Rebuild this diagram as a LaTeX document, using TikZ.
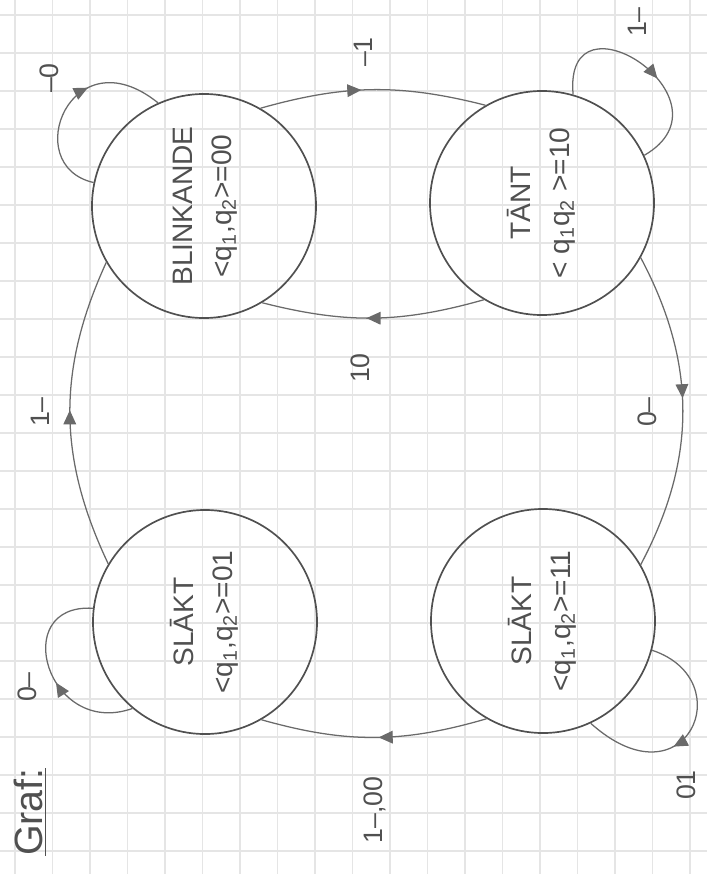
\documentclass[tikz,border=0pt]{standalone}
\usepackage{graphicx}
\usepackage{fontspec}
\setmainfont{Liberation Sans}
\usetikzlibrary{arrows.meta, decorations.markings}

\definecolor{pencil}{HTML}{505050}
\definecolor{softpencil}{HTML}{6A6A6A}

% rotated two-line state text
\newcommand{\vtext}[1]{\rotatebox{90}{\begin{tabular}{@{}c@{}}#1\end{tabular}}}

\tikzset{
  state/.style={draw=pencil, line width=1.2pt, circle, minimum size=5.6cm,
    inner sep=0pt, text=pencil, font=\fontsize{20}{28}\selectfont},
  lbl/.style={text=pencil, rotate=90, font=\fontsize{19}{22}\selectfont},
  trans/.style={draw=softpencil, line width=0.9pt},
  tipat/.style={postaction={decorate, decoration={markings,
      mark=at position #1 with {\arrow[softpencil]{Triangle[length=10pt, width=9pt]}}}}},
  gridline/.style={draw=black!10, line width=0.8pt},
}

\begin{document}
\begin{tikzpicture}[x=0.025cm, y=0.025cm]
  \useasboundingbox (0,0) rectangle (707,-874);

  % squared paper
  \foreach \gx in {0,...,18}
    \draw[gridline] (15+37.5*\gx, 0) -- (15+37.5*\gx, -874);
  \foreach \gy in {0,...,22}
    \draw[gridline] (0, -15-38*\gy) -- (707, -15-38*\gy);

  % states
  \node[state] (blink) at (204,-206)
    {\vtext{BLINKANDE\\<q\textsubscript{1},q\textsubscript{2}>=00}};
  \node[state] (lit) at (542,-203)
    {\vtext{TĀNT\\< q\textsubscript{1}q\textsubscript{2} >=10}};
  \node[state] (offa) at (205,-622)
    {\vtext{SLĀKT\\<q\textsubscript{1},q\textsubscript{2}>=01}};
  \node[state] (offb) at (543,-621)
    {\vtext{SLĀKT\\<q\textsubscript{1},q\textsubscript{2}>=11}};

  % transitions between states
  \draw[trans, tipat=.45] (blink.60) to[bend left=15] (lit.120);
  \draw[trans, tipat=.53] (lit.-121) to[bend left=15] (blink.-59);
  \draw[trans, tipat=.46] (lit.-29) to[bend left=28] (offb.30);
  \draw[trans, tipat=.48] (offb.-120) to[bend left=16] (offa.-60);
  \draw[trans, tipat=.51] (offa.149) to[bend left=25] (blink.-150);

  % self loops
  \draw[trans, tipat=.62] (blink.168) .. controls +(-75,17) and +(-87,70) .. (blink.114);
  \draw[trans, tipat=.58] (lit.74) .. controls +(-10,110) and +(95,55) .. (lit.25);
  \draw[trans, tipat=.45] (offa.230) .. controls +(-85,-30) and +(-85,5) .. (offa.173);
  \draw[trans, tipat=.58] (offb.-15) .. controls +(90,-30) and +(95,-85) .. (offb.-65);

  % input labels
  \node[lbl] (inblink) at (49,-78) {--0};
  \node[lbl] (inbl) at (363,-52) {--1};
  \node[lbl] (inlit) at (637,-22) {1--};
  \node[lbl] (inlb) at (360,-368) {10};
  \node[lbl] (inlo) at (647,-412) {0--};
  \node[lbl] (inoffb) at (686,-785) {01};
  \node[lbl] (inoo) at (375,-810) {1--,00};
  \node[lbl] (inob) at (40,-412) {1--};
  \node[lbl] (inoffa) at (27,-687) {0--};

  \node[text=pencil, rotate=90, font=\fontsize{28}{32}\selectfont] (title) at (30,-812)
    {\underline{Graf:}};
\end{tikzpicture}
\end{document}
